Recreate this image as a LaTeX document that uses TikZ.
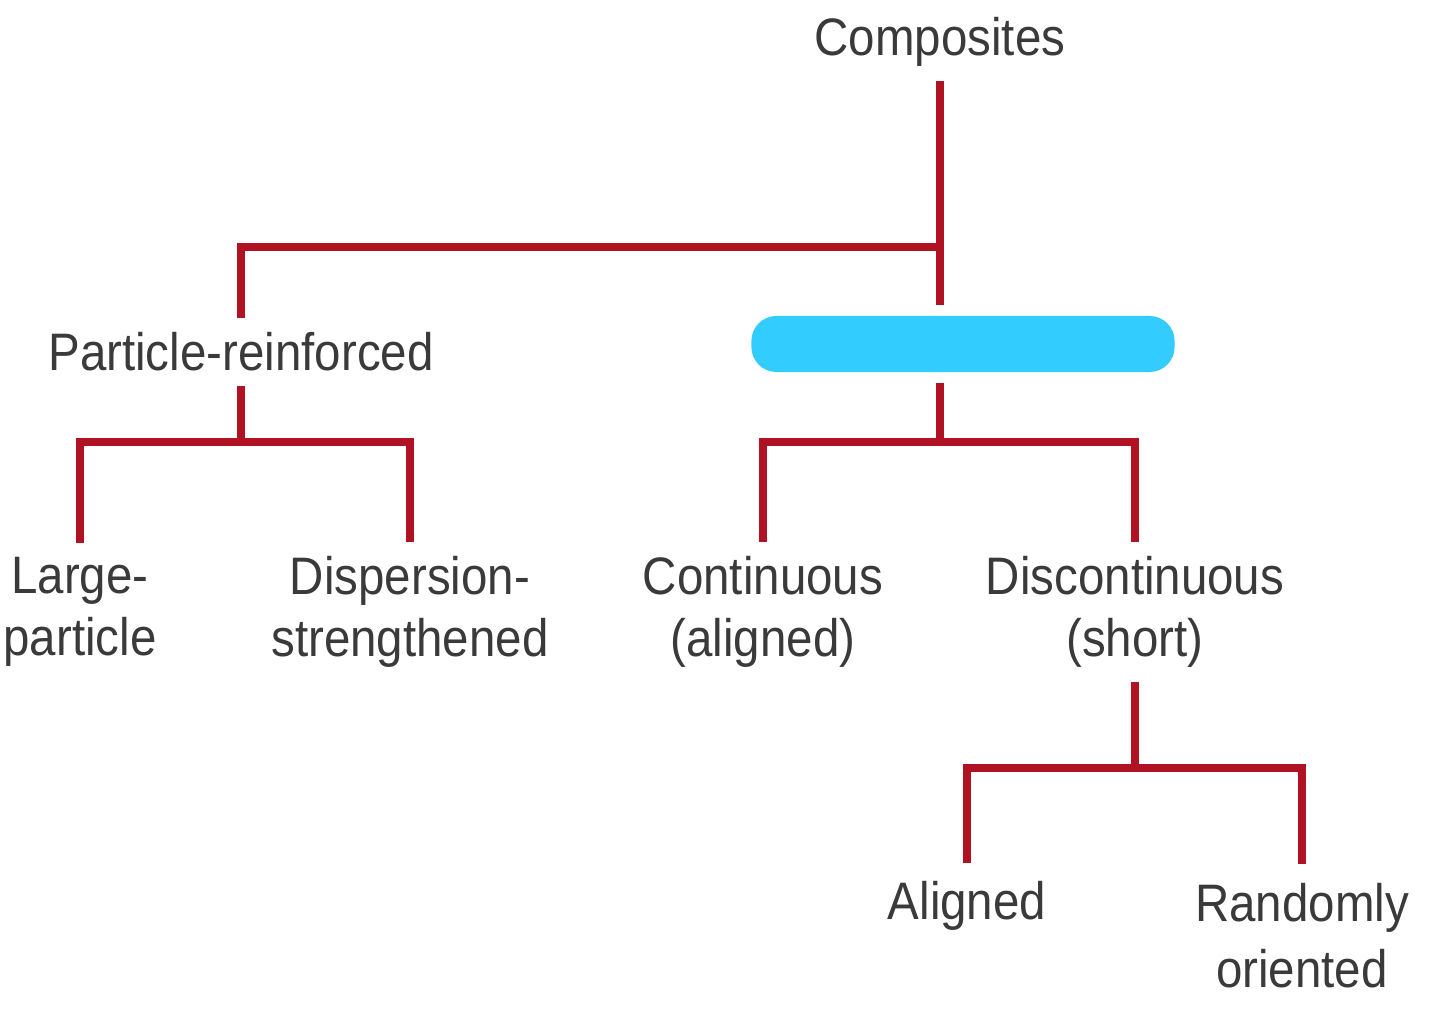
\documentclass[tikz,border=0pt]{standalone}
\usepackage{fontspec}
\setmainfont[FakeStretch=0.9]{Liberation Sans}
\usetikzlibrary{positioning,calc}
\definecolor{linered}{RGB}{176,18,36}
\definecolor{txtgray}{RGB}{58,58,58}
\definecolor{blobblue}{RGB}{51,204,255}
\tikzset{
  lbl/.style={text=txtgray, font=\fontsize{15}{17.5}\selectfont, align=center, inner sep=4pt},
  branch/.style={draw=linered, line width=2.3pt}
}
\begin{document}
\begin{tikzpicture}[x=0.01cm,y=-0.01cm]
        \useasboundingbox (0,0) rectangle (1440,1028);
        \coordinate (splitA) at (0,247);
        \coordinate (splitB) at (0,442);
        \coordinate (splitC) at (0,768);
        \node[lbl] (comp) at (940,42) {Composites};
        \node[lbl] (part) at (241,352) {Particle-reinforced};
        \node[fill=blobblue, rounded corners=0.25cm, minimum width=4.23cm, minimum height=0.56cm, inner sep=0pt, outer sep=3pt] (fiber) at (963,344) {};
        \node[lbl] (large) at (80,612) {Large-\\particle};
        \node[lbl] (disp) at (410,612) {Dispersion-\\strengthened};
        \node[lbl] (cont) at (763,612) {Continuous\\(aligned)};
        \node[lbl] (disc) at (1135,612) {Discontinuous\\(short)};
        \node[lbl, inner sep=5pt] (alig) at (967,906) {Aligned};
        \node[lbl, font=\fontsize{15}{18.8}\selectfont, inner sep=5.5pt] (rand) at (1302,936) {Randomly\\oriented};
        \draw[branch] (comp.south) -- (comp.south |- fiber.north);
        \draw[branch] (part.north) |- (comp.south |- splitA);
        \draw[branch] (part.south) -- (part.south |- splitB);
        \draw[branch] (large.north) |- (disp.north |- splitB) -- (disp.north);
        \draw[branch] (comp.south |- fiber.south) -- (comp.south |- splitB);
        \draw[branch] (cont.north) |- (disc.north |- splitB) -- (disc.north);
        \draw[branch] (disc.south) -- (disc.south |- splitC);
        \draw[branch] (alig.north) |- (rand.north |- splitC) -- (rand.north);
\end{tikzpicture}
\end{document}
